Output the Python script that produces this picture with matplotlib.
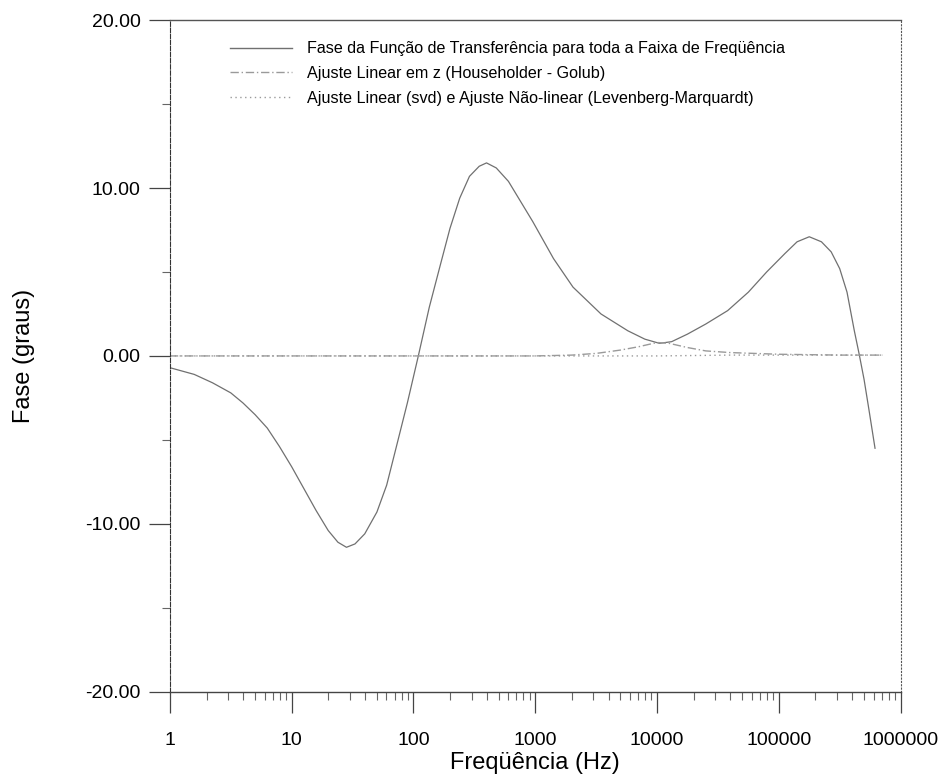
import numpy as np
import matplotlib.pyplot as plt
from matplotlib.ticker import FixedLocator, FuncFormatter, LogLocator, NullFormatter

plt.rcParams['font.family'] = ['Liberation Sans', 'DejaVu Sans']

# log10 of frequency (Hz) and phase (degrees) of the transfer function
log_f = [0.0, 0.2, 0.35, 0.5, 0.6, 0.7, 0.8, 0.9, 1.0, 1.1, 1.2, 1.3, 1.38, 1.45,
         1.52, 1.6, 1.7, 1.78, 1.86, 1.95, 2.04, 2.13, 2.22, 2.3, 2.38, 2.46, 2.54,
         2.6, 2.68, 2.78, 2.88, 2.98, 3.15, 3.31, 3.54, 3.76, 3.9, 4.02, 4.12, 4.25,
         4.4, 4.58, 4.75, 4.9, 5.05, 5.15, 5.25, 5.35, 5.43, 5.5, 5.56, 5.62, 5.66,
         5.7, 5.74, 5.79]
fase = [-0.7, -1.1, -1.6, -2.2, -2.8, -3.5, -4.3, -5.4, -6.6, -7.9, -9.2, -10.4, -11.1, -11.4,
        -11.2, -10.6, -9.3, -7.7, -5.4, -2.8, 0.0, 2.9, 5.4, 7.6, 9.4, 10.7, 11.3,
        11.5, 11.2, 10.4, 9.2, 8.0, 5.8, 4.1, 2.5, 1.5, 1.0, 0.75, 0.85, 1.3,
        1.9, 2.7, 3.8, 5.0, 6.1, 6.8, 7.1, 6.8, 6.2, 5.2, 3.8, 1.5, 0.1,
        -1.4, -3.2, -5.5]

# linear fit in z (Householder - Golub)
log_f_hh = [0.0, 1.0, 2.0, 3.0, 3.3, 3.5, 3.7, 3.85, 4.0, 4.1, 4.25, 4.4, 4.6, 4.8, 5.0, 5.5, 5.85]
fase_hh = [0.0, 0.0, 0.0, 0.0, 0.05, 0.15, 0.35, 0.55, 0.8, 0.75, 0.5, 0.3, 0.2, 0.15, 0.1, 0.05, 0.05]

# linear fit (svd) and nonlinear fit (Levenberg-Marquardt)
log_f_svd = [0.0, 1.0, 2.0, 3.0, 3.3, 4.0, 4.6, 5.0, 5.5, 5.85]
fase_svd = [0.0, 0.0, 0.0, 0.0, 0.0, 0.0, 0.05, 0.05, 0.05, 0.05]

f = 10 ** np.array(log_f)
f_hh = 10 ** np.array(log_f_hh)
f_svd = 10 ** np.array(log_f_svd)

fig = plt.figure(figsize=(9.49, 7.78), dpi=100)
ax = fig.add_axes([0.179, 0.111, 0.770, 0.863])

ax.plot(f, fase, color='#707070', lw=0.9,
        label='Fase da Função de Transferência para toda a Faixa de Freqüência')
ax.plot(f_hh, fase_hh, color='#9a9a9a', lw=1.0, linestyle=(0, (6, 2, 1, 2)),
        label='Ajuste Linear em z (Householder - Golub)')
ax.plot(f_svd, fase_svd, color='#9a9a9a', lw=1.0, linestyle=(0, (1, 2.5)),
        label='Ajuste Linear (svd) e Ajuste Não-linear (Levenberg-Marquardt)')

ax.set_xscale('log')
ax.set_xlim(1, 1e6)
ax.set_ylim(-20, 20)

ax.xaxis.set_major_locator(LogLocator(base=10, numticks=10))
ax.xaxis.set_major_formatter(FuncFormatter(lambda v, p: f'{v:.0f}'))
ax.xaxis.set_minor_locator(LogLocator(base=10, subs=np.arange(2, 10), numticks=20))
ax.xaxis.set_minor_formatter(NullFormatter())

ax.yaxis.set_major_locator(FixedLocator([-20, -10, 0, 10, 20]))
ax.yaxis.set_minor_locator(FixedLocator([-15, -5, 5, 15]))
ax.yaxis.set_major_formatter(FuncFormatter(lambda v, p: f'{v:.2f}'))

ax.tick_params(axis='both', which='major', direction='out', length=15, width=0.9,
               color='#444444', labelsize=14)
ax.tick_params(axis='both', which='minor', direction='out', length=6, width=0.8,
               color='#666666')
ax.tick_params(axis='x', which='major', pad=14)
ax.tick_params(axis='y', which='major', pad=6)

ax.spines['left'].set_linestyle((0, (4, 1.5)))
ax.spines['left'].set_color('#333333')
ax.spines['left'].set_linewidth(0.8)
ax.spines['right'].set_linestyle((0, (1, 2)))
ax.spines['right'].set_color('#555555')
ax.spines['right'].set_linewidth(0.8)
ax.spines['top'].set_color('#555555')
ax.spines['top'].set_linewidth(1.0)
ax.spines['bottom'].set_color('#444444')
ax.spines['bottom'].set_linewidth(1.0)

ax.set_xlabel('Freqüência (Hz)', fontsize=17, labelpad=2)
ax.set_ylabel('Fase (graus)', fontsize=17, labelpad=36)

leg = ax.legend(loc='upper left', bbox_to_anchor=(0.062, 0.99), frameon=False,
                fontsize=11.6, handlelength=3.85, handletextpad=0.95, labelspacing=0.6)
for line in leg.get_lines():
    line.set_linewidth(1.0)

fig.savefig('out.png', dpi=100)
